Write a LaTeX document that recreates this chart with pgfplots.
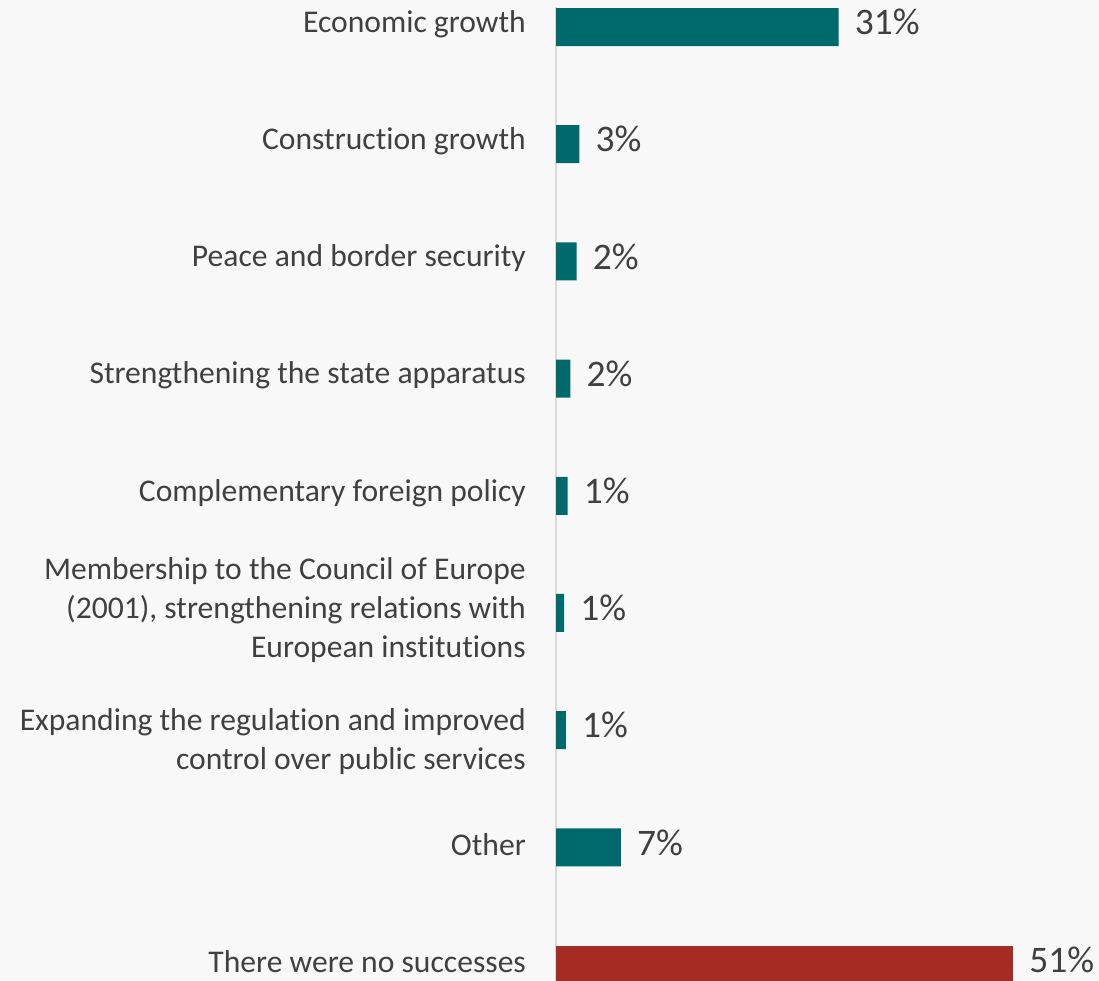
\documentclass[border=0pt]{standalone}
\usepackage{pgfplots}
\pgfplotsset{compat=1.18}
\usepackage{pgfplotstable}
\usepackage{fontspec}
\setmainfont{Carlito}[Ligatures={NoCommon,NoRequired,NoContextual}]
\definecolor{teal1}{HTML}{00696C}
\definecolor{red1}{HTML}{A62B22}
\definecolor{txt}{HTML}{404040}
\definecolor{bg}{HTML}{F8F8F8}
\definecolor{axline}{HTML}{D9D9D9}
\pgfplotstableread{
y x label
0 31.4 31
1 2.6 3
2 2.3 2
3 1.6 2
4 1.3 1
5 0.9 1
6 1.1 1
7 7.2 7
}\tealdata
\pgfplotstableread{
y x label
8 50.8 51
}\reddata
\begin{document}
\begin{tikzpicture}[x=1pt,y=1pt]
\fill[bg] (0,0) rectangle (1099,980);
\begin{scope}
\clip (0,0) rectangle (1099,980);
\begin{axis}[
  at={(556pt,973pt)}, anchor=north west,
  scale only axis, width=540pt, height=1016.2pt,
  xmin=0, xmax=60, ymin=-0.171, ymax=8.5,
  y dir=reverse,
  xbar, bar width=38pt, bar shift=0pt,
  axis x line=none, axis y line*=left,
  y axis line style={-, draw=axline, line width=2pt},
  xtick=\empty,
  ytick={0,1,2,3,4,5,6,7,8},
  major tick length=0pt,
  yticklabels={Economic growth, Construction growth, Peace and border security, Strengthening the state apparatus, Complementary foreign policy, {Membership to the Council of Europe\\(2001), strengthening relations with\\European institutions}, {\rule{0pt}{50pt}Expanding the regulation and improved\\control over public services}, Other, There were no successes},
  yticklabel style={font=\fontsize{31.6}{39}\selectfont, text=txt, align=right, inner sep=0pt, xshift=-30pt, yshift=3pt},
  point meta=explicit symbolic,
  nodes near coords={\pgfplotspointmeta\%},
  every node near coord/.style={font=\fontsize{37.5}{45}\selectfont, text=txt, anchor=west, inner sep=0pt, xshift=16pt, yshift=5pt},
  clip=false,
]
\addplot[fill=teal1, draw=none] table[x=x, y=y, meta=label] {\tealdata};
\addplot[fill=red1, draw=none] table[x=x, y=y, meta=label] {\reddata};
\end{axis}
\end{scope}
\pgfresetboundingbox
\useasboundingbox (0,0) rectangle (1099,980);
\end{tikzpicture}
\end{document}
